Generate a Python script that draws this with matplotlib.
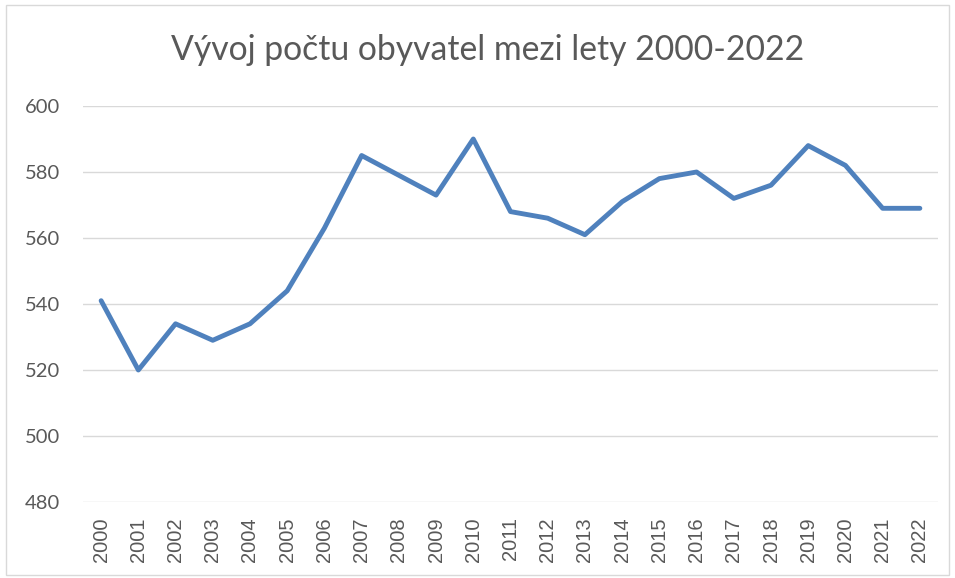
import matplotlib
matplotlib.use("Agg")
import matplotlib.pyplot as plt
from matplotlib.patches import Rectangle

years = [str(y) for y in range(2000, 2023)]
obyvatel = [541, 520, 534, 529, 534, 544, 563, 585, 579, 573, 590, 568,
            566, 561, 571, 578, 580, 572, 576, 588, 582, 569, 569]
yticks = [480, 500, 520, 540, 560, 580, 600]

plt.rcParams["font.family"] = ["Lato", "DejaVu Sans"]
TXT = "#595959"

fig = plt.figure(figsize=(9.55, 5.78), dpi=100)
ax = fig.add_axes([0.0864, 0.1315, 0.8963, 0.6851])

ax.plot(range(len(years)), obyvatel, color="#4F81BD", lw=3.5,
        solid_capstyle="round", solid_joinstyle="round", zorder=3)

ax.set_xlim(-0.5, len(years) - 0.5)
ax.set_ylim(yticks[0], yticks[-1])
ax.set_yticks(yticks)
ax.set_xticks(range(len(years)))
ax.set_xticklabels(years, rotation=90, family=["Liberation Sans", "DejaVu Sans"])
ax.tick_params(axis="both", length=0, colors=TXT)
ax.tick_params(axis="y", pad=16, labelsize=14.5)
ax.tick_params(axis="x", pad=11, labelsize=14.5)
ax.grid(axis="y", color="#d9d9d9", lw=1.0)
ax.set_axisbelow(True)
for s in ax.spines.values():
    s.set_visible(False)

fig.text(0.511, 0.913, "Vývoj počtu obyvatel mezi lety 2000-2022",
         ha="center", va="center", fontsize=24.3, color=TXT)

# ramecek grafu
fig.patches.append(Rectangle((0.006, 0.006), 0.988, 0.985, transform=fig.transFigure,
                             fill=False, edgecolor="#d9d9d9", lw=1.0))

fig.savefig("out.png", dpi=100)
